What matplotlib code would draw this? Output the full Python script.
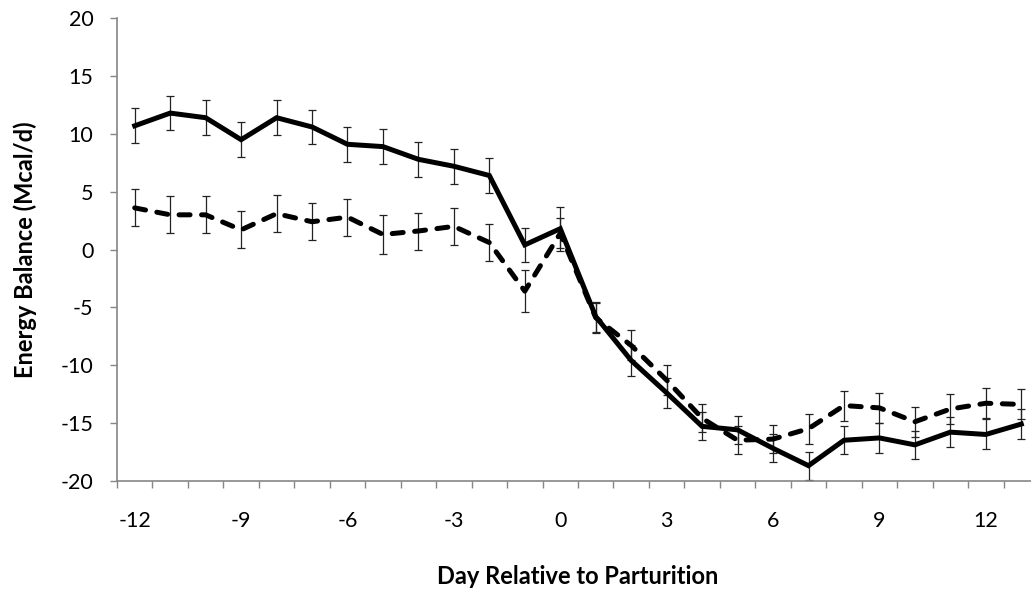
"""
Energy balance around parturition, two groups with SE bars.
"""
import numpy as np
import matplotlib.pyplot as plt
from matplotlib.ticker import FixedLocator, NullFormatter

days = list(range(-12, 14))

solid_eb = [10.7, 11.8, 11.4, 9.5, 11.4, 10.6, 9.1, 8.9, 7.8, 7.2, 6.4, 0.4, 1.8,
            -5.8, -9.6, -12.4, -15.3, -15.6, -17.2, -18.7, -16.5, -16.3, -16.9, -15.8, -16.0, -15.1]
solid_se = [1.5, 1.5, 1.5, 1.5, 1.5, 1.5, 1.5, 1.5, 1.5, 1.5, 1.5, 1.5, 1.9,
            1.3, 1.3, 1.3, 1.2, 1.2, 1.2, 1.2, 1.2, 1.3, 1.2, 1.3, 1.3, 1.3]

dashed_eb = [3.6, 3.0, 3.0, 1.7, 3.1, 2.4, 2.8, 1.3, 1.6, 2.0, 0.6, -3.6, 1.4,
             -5.9, -8.3, -11.3, -14.6, -16.5, -16.4, -15.5, -13.5, -13.7, -14.9, -13.8, -13.3, -13.4]
dashed_se = [1.6, 1.6, 1.6, 1.6, 1.6, 1.6, 1.6, 1.7, 1.6, 1.6, 1.6, 1.8, 1.3,
             1.3, 1.3, 1.3, 1.2, 1.2, 1.2, 1.3, 1.3, 1.3, 1.3, 1.3, 1.3, 1.3]

xtick_vals = [-12, -9, -6, -3, 0, 3, 6, 9, 12]
ytick_vals = [-20, -15, -10, -5, 0, 5, 10, 15, 20]

plt.rcParams['font.family'] = ['Lato', 'DejaVu Sans']
plt.rcParams['axes.unicode_minus'] = False
AXIS_GREY = '#868686'

fig = plt.figure(figsize=(10.31, 5.90), dpi=100)
# axes run past the right edge on purpose (the original is cropped there)
ax = fig.add_axes([117 / 1031, 109.3 / 590, 922 / 1031, 462.4 / 590])

ax.errorbar(days, solid_eb, yerr=solid_se, fmt='none', ecolor='#222222',
            elinewidth=0.9, capsize=3.2, capthick=0.9, zorder=2)
ax.errorbar(days, dashed_eb, yerr=dashed_se, fmt='none', ecolor='#222222',
            elinewidth=0.9, capsize=3.2, capthick=0.9, zorder=2)
ax.plot(days, solid_eb, color='black', lw=3.6, solid_joinstyle='miter', zorder=3)
ax.plot(days, dashed_eb, color='black', lw=3.6, linestyle=(0, (2.2, 2.3)),
        dash_capstyle='round', zorder=3)

ax.set_xlim(-12.5, 13.5)
ax.set_ylim(-20, 20)

# category axis: ticks between days, labels every third day
ax.xaxis.set_major_locator(FixedLocator(xtick_vals))
ax.xaxis.set_minor_locator(FixedLocator(np.arange(-12.5, 14, 1.0)))
ax.xaxis.set_minor_formatter(NullFormatter())
ax.tick_params(axis='x', which='major', length=0, pad=22, labelsize=15.5)
ax.tick_params(axis='x', which='minor', length=5, width=1, color=AXIS_GREY, direction='out')

ax.set_yticks(ytick_vals)
ax.tick_params(axis='y', length=5, width=1, color=AXIS_GREY, pad=12, labelsize=15.5)

for side in ['top', 'right']:
  ax.spines[side].set_visible(False)
for side in ['left', 'bottom']:
  ax.spines[side].set_color(AXIS_GREY)
  ax.spines[side].set_linewidth(1.2)

fig.text(578 / 1031, 1 - 577 / 590, 'Day Relative to Parturition', ha='center', va='center',
         fontsize=17, fontweight='bold')
fig.text(25 / 1031, 1 - 250 / 590, 'Energy Balance (Mcal/d)', ha='center', va='center',
         rotation=90, fontsize=17, fontweight='bold')

fig.savefig('out.png', dpi=100)
